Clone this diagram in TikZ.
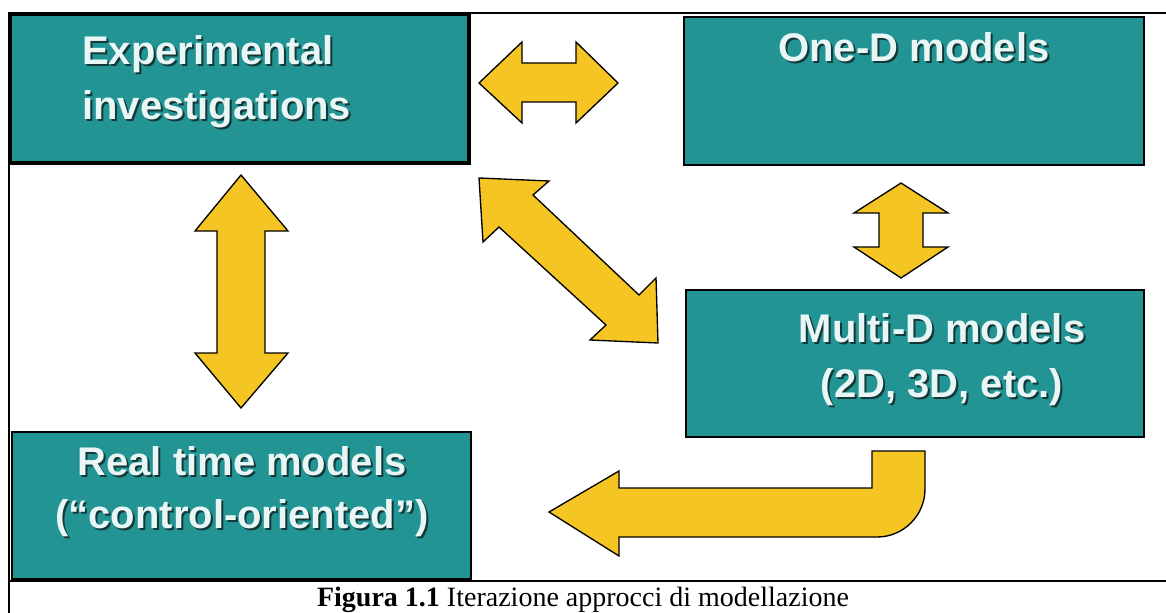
\documentclass[tikz,border=0pt]{standalone}
\usepackage{fontspec}
\setmainfont{Liberation Serif}
\newfontfamily\boxfont{Liberation Sans}
\usetikzlibrary{fit}

\definecolor{tealfill}{RGB}{34,148,148}
\definecolor{arrowyellow}{RGB}{245,198,35}
\definecolor{labeltext}{RGB}{232,246,246}
\definecolor{labelshadow}{RGB}{18,40,40}

% label with a dark drop shadow: #1 anchor, #2 name, #3 position (x,y without brackets), #4 text
\newcommand\shadowlabel[4]{%
  \node[lblshadow, anchor=#1] (#2-sh) at ([shift={(2,2)}]#3) {#4};
  \node[lbl, anchor=#1] (#2) at (#3) {#4};}

\begin{document}
\begin{tikzpicture}[x=0.75pt,y=-0.75pt,
  frameline/.style={line width=1.5pt, black},
  box/.style={draw=black, fill=tealfill, line width=1.7pt, inner sep=0pt},
  bigarrow/.style={draw=black, fill=arrowyellow, line width=1pt, line join=miter},
  lbl/.style={font=\boxfont\bfseries\fontsize{30}{36}\selectfont, text=labeltext, inner sep=0pt},
  lblshadow/.style={lbl, text=labelshadow, opacity=0.85},
]
\useasboundingbox (0,0) rectangle (1166,613);

% outer frame and caption separator
\draw[frameline] (8,13) -- (1166,13);
\draw[frameline] (9,13) -- (9,613);
\draw[frameline] (9,581) -- (1166,581);

% model boxes
\node[box, line width=2.4pt, fit={(10,14) (469,163)}] (exp) {};
\node[box, fit={(684,17) (1144,165)}] (oned) {};
\node[box, fit={(686,290) (1144,437)}] (multid) {};
\node[box, fit={(12,432) (471,579)}] (realtime) {};

% box labels
\shadowlabel{base west}{exp1}{82,65}{Experimental}
\shadowlabel{base west}{exp2}{82,120}{investigations}
\shadowlabel{base}{oned1}{914,62}{One-D models}
\shadowlabel{base}{multi1}{942,342}{Multi-D models}
\shadowlabel{base}{multi2}{942,397}{(2D, 3D, etc.)}
\shadowlabel{base}{rt1}{242,475}{Real time models}
\shadowlabel{base}{rt2}{242,528}{(“control-oriented”)}

% experiments <-> one-D
\draw[bigarrow] (479,83) -- (522,42) -- (522,63) -- (576,63) -- (576,42) -- (618,83)
  -- (576,123) -- (576,102) -- (522,102) -- (522,123) -- cycle;

% one-D <-> multi-D
\draw[bigarrow] (901,183) -- (948,213) -- (923,213) -- (923,247) -- (948,247) -- (901,278)
  -- (854,247) -- (879,247) -- (879,213) -- (854,213) -- cycle;

% experiments <-> real time
\draw[bigarrow] (241,175) -- (288,231) -- (265,231) -- (265,353) -- (288,353) -- (241,408)
  -- (195,353) -- (217,353) -- (217,231) -- (195,231) -- cycle;

% experiments <-> multi-D (diagonal)
\draw[bigarrow] (479,178) -- (549,181) -- (533,195) -- (639,295) -- (656,278) -- (658,343)
  -- (590,340) -- (606,325) -- (499,227) -- (483,242) -- cycle;

% multi-D -> real time (bent)
\draw[bigarrow] (549,512) -- (619,471) -- (619,488) -- (872,488) -- (872,451) -- (925,451)
  -- (925,489) .. controls (925,515.5) and (903.5,537) .. (877,537)
  -- (619,537) -- (619,556) -- cycle;

% caption
\node[font=\fontsize{21}{25}\selectfont, inner sep=0pt, anchor=base] (caption) at (583,606)
  {\textbf{Figura 1.1} Iterazione approcci di modellazione};
\end{tikzpicture}
\end{document}
